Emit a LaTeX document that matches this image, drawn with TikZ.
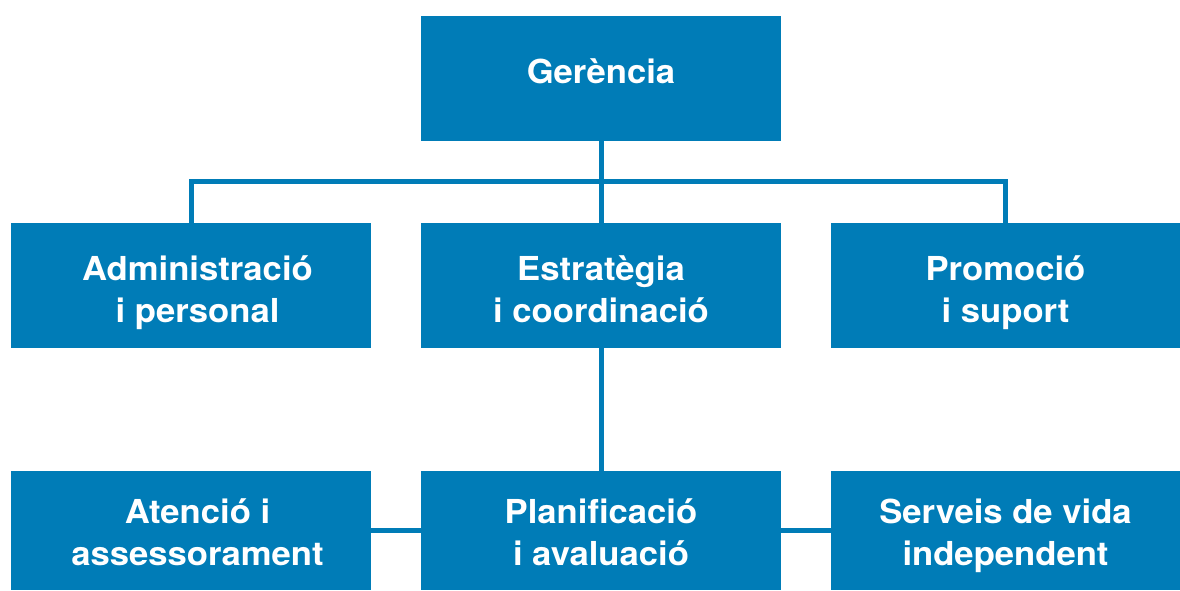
\documentclass[tikz,border=0pt]{standalone}
\usepackage{fontspec}
\setmainfont{TeX Gyre Heros}[FakeStretch=1.05]
\definecolor{orgblue}{HTML}{007CB7}
% first baseline raised by #1 from the box centre, lines separated by \cr
\newcommand{\orgtext}[2]{\raisebox{#1}[0pt][0pt]{\vtop{\halign{\hfil##\hfil\cr#2\crcr}}}}
\begin{document}
\begin{tikzpicture}[x=1pt,y=-1pt,
  orgbox/.style={fill=orgblue,text=white,inner sep=0pt,
    minimum height=125pt,
    font=\bfseries\fontsize{33}{42}\selectfont},
  wide/.style={minimum width=360pt},
  link/.style={draw=orgblue,line width=5pt}]
\useasboundingbox (0,0) rectangle (1180,590);
\node[orgbox,wide] (ger) at (601,78.5) {\orgtext{-4.5pt}{Gerència}};
\node[orgbox,wide] (adm) at (191,285.5) {\hspace*{13pt}\orgtext{5.5pt}{Administració\cr i personal}};
\node[orgbox,wide] (est) at (601,285.5) {\orgtext{5.5pt}{Estratègia\cr i coordinació}};
\node[orgbox,minimum width=349pt] (pro) at (1005.5,285.5) {\orgtext{5.5pt}{Promoció\cr i suport}};
\node[orgbox,wide,minimum height=119pt] (ate) at (191,530.5) {\hspace*{13pt}\orgtext{7pt}{Atenció i\cr assessorament}};
\node[orgbox,wide,minimum height=119pt] (pla) at (601,530.5) {\orgtext{7pt}{Planificació\cr i avaluació}};
\node[orgbox,minimum width=349pt,minimum height=119pt] (ser) at (1005.5,530.5) {\orgtext{7pt}{Serveis de vida\cr independent}};
\coordinate (bus) at (601,181);
\draw[link] (ger.south) -- (est.north);
\draw[link] (adm.north) |- (bus) -| (pro.north);
\draw[link] (est.south) -- (pla.north);
\draw[link] (ate.east) -- (pla.west);
\draw[link] (pla.east) -- (ser.west);
\end{tikzpicture}
\end{document}
